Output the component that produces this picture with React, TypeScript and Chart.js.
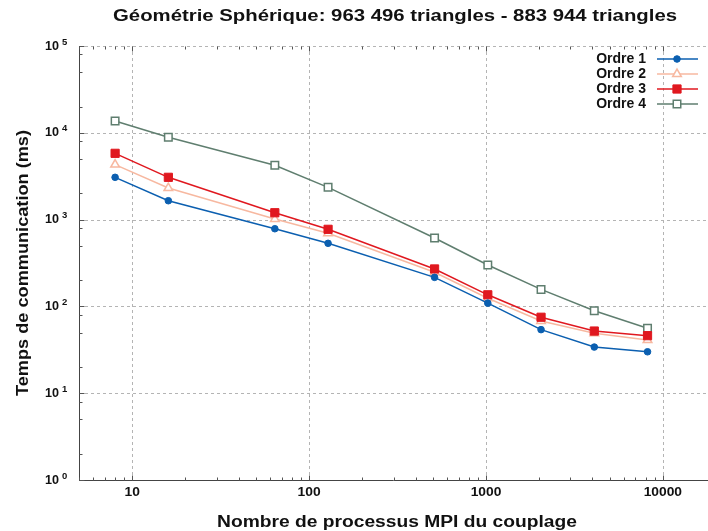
import { useEffect, useRef } from 'react';
import { Chart, registerables } from 'chart.js';

Chart.register(...registerables);

const procs = [8, 16, 64, 128, 512, 1024, 2048, 4096, 8192];
const ordre1 = [3070, 1650, 785, 533, 216, 109, 54, 34, 30];
const ordre2 = [4300, 2310, 1016, 695, 247, 124, 68, 49, 41];
const ordre3 = [5800, 3070, 1200, 773, 270, 136, 75, 52, 46];
const ordre4 = [13700, 8870, 4220, 2355, 614, 300, 157, 89, 56];
const seriesNames = ['Ordre 1', 'Ordre 2', 'Ordre 3', 'Ordre 4'];
const xMajorTicks = [10, 100, 1000, 10000];
const xTickLabels = ['10', '100', '1000', '10000'];
const yMajorTicks = [1, 10, 100, 1000, 10000, 100000];
const yTickExponents = ['0', '1', '2', '3', '4', '5'];
const chartTitle = 'Géométrie Sphérique: 963 496 triangles - 883 944 triangles';
const xTitle = 'Nombre de processus MPI du couplage';
const yTitle = 'Temps de communication (ms)';

const FONT = '"Liberation Sans", Arial, Helvetica, sans-serif';

type Style = { color: string; point: string; radius: number; fill: string; bw: number };
const styles: Style[] = [
  { color: '#0b5fb0', point: 'circle', radius: 3.3, fill: '#0b5fb0', bw: 1 },
  { color: '#f7b8a0', point: 'triangle', radius: 5, fill: '#ffffff', bw: 1.5 },
  { color: '#e0181f', point: 'rect', radius: 5.8, fill: '#e0181f', bw: 1 },
  { color: '#5f7e6f', point: 'rect', radius: 5.3, fill: '#ffffff', bw: 1.5 },
];

function drawMarker(ctx: CanvasRenderingContext2D, s: Style, x: number, y: number) {
  ctx.save();
  ctx.beginPath();
  if (s.point === 'circle') {
    ctx.arc(x, y, s.radius, 0, Math.PI * 2);
  } else if (s.point === 'rect') {
    const h = Math.SQRT1_2 * s.radius;
    ctx.rect(x - h, y - h, 2 * h, 2 * h);
  } else {
    const side = (3 * s.radius) / Math.sqrt(3);
    const height = (side * Math.sqrt(3)) / 2;
    ctx.moveTo(x - side / 2, y + height / 3);
    ctx.lineTo(x + side / 2, y + height / 3);
    ctx.lineTo(x, y - (2 * height) / 3);
    ctx.closePath();
  }
  ctx.fillStyle = s.fill;
  ctx.fill();
  ctx.lineWidth = s.bw;
  ctx.strokeStyle = s.color;
  ctx.stroke();
  ctx.restore();
}

// draw text centred at x, stretched horizontally to a given width
function wideText(ctx: CanvasRenderingContext2D, text: string, x: number, y: number, width: number) {
  const w = ctx.measureText(text).width;
  ctx.save();
  ctx.translate(x, y);
  ctx.scale(width / w, 1);
  ctx.textAlign = 'center';
  ctx.fillText(text, 0, 0);
  ctx.restore();
}

const decorPlugin = {
  id: 'decor',
  beforeDatasetsDraw(chart: any) {
    const ctx: CanvasRenderingContext2D = chart.ctx;
    const { left, right, top, bottom } = chart.chartArea;
    const xs = chart.scales.x;
    const ys = chart.scales.y;
    ctx.save();
    ctx.strokeStyle = '#b4b4b4';
    ctx.lineWidth = 1;
    ctx.setLineDash([3, 3]);
    xMajorTicks.forEach((v) => {
      const px = Math.round(xs.getPixelForValue(v)) + 0.5;
      ctx.beginPath();
      ctx.moveTo(px, top);
      ctx.lineTo(px, bottom);
      ctx.stroke();
    });
    yMajorTicks.forEach((v) => {
      if (v === 1) return;
      const py = Math.round(ys.getPixelForValue(v)) + 0.5;
      ctx.beginPath();
      ctx.moveTo(left, py);
      ctx.lineTo(right, py);
      ctx.stroke();
    });
    ctx.setLineDash([]);
    ctx.strokeStyle = '#444444';
    const lx = Math.round(left) + 0.5;
    const by = Math.round(bottom) + 0.5;
    const ty = Math.round(top) + 0.5;
    ctx.beginPath();
    ctx.moveTo(lx, top);
    ctx.lineTo(lx, bottom);
    ctx.moveTo(left, by);
    ctx.lineTo(right, by);
    ctx.stroke();
    ctx.strokeStyle = '#555555';
    for (let d = 1; d <= 10000; d *= 10) {
      for (let m = 1; m <= 9; m++) {
        const v = d * m;
        if (v < xs.min || v > xs.max) continue;
        const px = Math.round(xs.getPixelForValue(v)) + 0.5;
        const len = m === 1 ? 5 : 3;
        ctx.beginPath();
        ctx.moveTo(px, by);
        ctx.lineTo(px, by - len);
        ctx.moveTo(px, ty);
        ctx.lineTo(px, ty + len);
        ctx.stroke();
      }
    }
    for (let d = 1; d <= 100000; d *= 10) {
      [1, 2, 5, 8].forEach((m) => {
        const v = d * m;
        if (v < ys.min || v > ys.max) return;
        const py = Math.round(ys.getPixelForValue(v)) + 0.5;
        const len = m === 1 ? 5 : 3;
        ctx.beginPath();
        ctx.moveTo(lx, py);
        ctx.lineTo(lx + len, py);
        ctx.stroke();
      });
    }
    ctx.restore();
  },
  afterDraw(chart: any) {
    const ctx: CanvasRenderingContext2D = chart.ctx;
    const xs = chart.scales.x;
    const ys = chart.scales.y;
    ctx.save();
    ctx.fillStyle = '#111111';
    ctx.textBaseline = 'alphabetic';
    // title
    ctx.font = `bold 16px ${FONT}`;
    wideText(ctx, chartTitle, 395, 21, 564);
    // x tick labels
    ctx.font = `bold 12px ${FONT}`;
    xMajorTicks.forEach((v, i) => {
      const t = xTickLabels[i];
      const w = ctx.measureText(t).width * 1.15;
      wideText(ctx, t, xs.getPixelForValue(v), 495.5, w);
    });
    // y tick labels with superscript
    yMajorTicks.forEach((v, i) => {
      const py = ys.getPixelForValue(v);
      ctx.font = `bold 12px ${FONT}`;
      wideText(ctx, '10', 52, py + 3.5, 14);
      ctx.font = `bold 9.5px ${FONT}`;
      ctx.textAlign = 'left';
      ctx.fillText(yTickExponents[i], 62, py - 1.5);
    });
    // axis titles
    ctx.font = `bold 16px ${FONT}`;
    wideText(ctx, xTitle, 397, 527, 360);
    ctx.save();
    ctx.translate(27.5, 263);
    ctx.rotate(-Math.PI / 2);
    wideText(ctx, yTitle, 0, 0, 266);
    ctx.restore();
    // legend
    const rowY = [59, 74, 89, 104];
    seriesNames.forEach((name, i) => {
      const y = rowY[i];
      const s = styles[i];
      ctx.font = `bold 14px ${FONT}`;
      ctx.textAlign = 'right';
      ctx.textBaseline = 'middle';
      ctx.fillStyle = '#111111';
      ctx.fillText(name, 646, y);
      ctx.strokeStyle = s.color;
      ctx.lineWidth = 1.5;
      ctx.beginPath();
      ctx.moveTo(657, y);
      ctx.lineTo(698, y);
      ctx.stroke();
      drawMarker(ctx, s, 677, y);
    });
    ctx.restore();
  },
};

export default function App() {
  const ref = useRef<HTMLCanvasElement | null>(null);
  useEffect(() => {
    if (!ref.current) return;
    const seriesData = [ordre1, ordre2, ordre3, ordre4];
    const drawOrder = [0, 2, 1, 3];
    const chart = new Chart(ref.current, {
      type: 'line',
      data: {
        datasets: seriesData.map((vals, i) => ({
          label: seriesNames[i],
          data: procs.map((x, j) => ({ x, y: vals[j] })),
          borderColor: styles[i].color,
          borderWidth: 1.5,
          pointStyle: styles[i].point as any,
          pointRadius: styles[i].radius,
          pointBackgroundColor: styles[i].fill,
          pointBorderColor: styles[i].color,
          pointBorderWidth: styles[i].bw,
          fill: false,
          tension: 0,
          order: drawOrder[i],
        })),
      },
      options: {
        animation: false,
        responsive: false,
        layout: { autoPadding: false, padding: { left: 79, top: 46, right: 0, bottom: 51 } },
        plugins: {
          legend: { display: false },
          tooltip: { enabled: false },
          title: { display: false },
        },
        scales: {
          x: {
            type: 'logarithmic',
            min: 5,
            max: 18000,
            grid: { display: false },
            ticks: { display: false },
            border: { display: false },
            afterFit: (s: any) => {
              s.height = 0;
            },
          },
          y: {
            type: 'logarithmic',
            min: 1,
            max: 100000,
            grid: { display: false },
            ticks: { display: false },
            border: { display: false },
            afterFit: (s: any) => {
              s.width = 0;
            },
          },
        },
      } as any,
      plugins: [decorPlugin],
    });
    return () => chart.destroy();
  }, []);
  return (
    <div style={{ position: 'fixed', left: 0, top: 0, width: 708, height: 531, background: '#fff' }}>
      <canvas ref={ref} width={708} height={531} style={{ display: 'block' }} />
    </div>
  );
}
